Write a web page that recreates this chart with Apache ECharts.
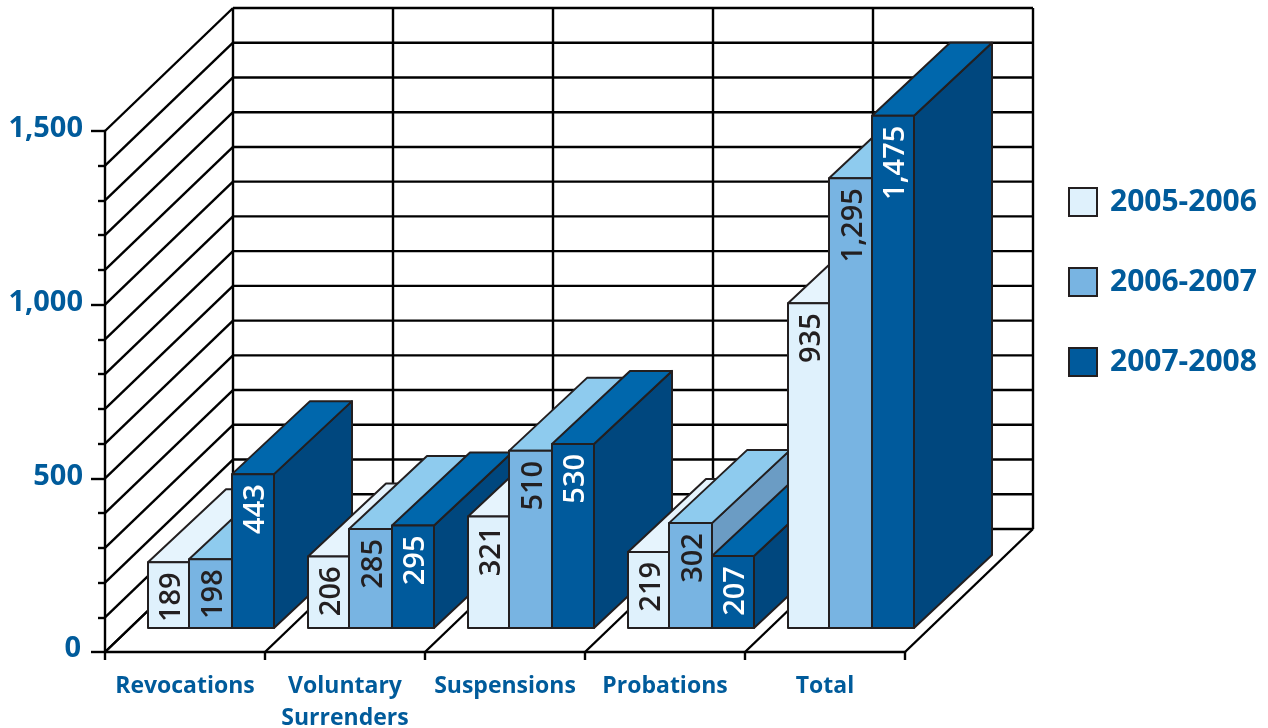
<!DOCTYPE html>
<html>
<head>
<meta charset="utf-8">
<style>html,body{margin:0;padding:0;background:#fff}#c{width:1268px;height:728px}</style>
<script src="https://cdn.jsdelivr.net/npm/echarts@6/dist/echarts.min.js"></script>
</head>
<body>
<div id="c"></div>
<script>
var categories = ['Revocations', 'Voluntary\nSurrenders', 'Suspensions', 'Probations', 'Total'];
var v2005 = [189, 206, 321, 219, 935];
var v2006 = [198, 285, 510, 302, 1295];
var v2007 = [443, 295, 530, 207, 1475];
var seriesNames = ['2005-2006', '2006-2007', '2007-2008'];
var yTicksMajor = { 0: '0', 500: '500', 1000: '1,000', 1500: '1,500' };
var gridLevels = [0, 100, 200, 300, 400, 500, 600, 700, 800, 900, 1000, 1100, 1200, 1300, 1400, 1500];
var gridBoundaries = [0, 1, 2, 3, 4, 5];

var FONT = '"Open Sans", "Noto Sans", sans-serif';
var BLUE = '#005b9b';
var INK = '#231f20';
var front = ['#dff1fc', '#78b4e2', '#005a9c'];
var top3d = ['#e6f4fd', '#8ecbee', '#0067ac'];
var side = ['#e6f4fd', '#6b9cc4', '#00477e'];
var labelCol = [INK, INK, '#ffffff'];
var slotX = [[-37, 4], [4, 47], [47, 89]];
var WALL = [128, -123], DEPTH = [78, -73], LIFT = 24;

function line(x1, y1, x2, y2) {
  return { type: 'line', shape: { x1: x1, y1: y1, x2: x2, y2: y2 }, style: { stroke: '#000', lineWidth: 2.4 }, silent: true };
}
function poly(points, fill, z2) {
  return { type: 'polygon', z2: z2, shape: { points: points }, style: { fill: fill, stroke: INK, lineWidth: 2, lineJoin: 'round' } };
}
function barRenderer(slot) {
  return function (params, api) {
    var cat = api.value(0), val = api.value(1);
    var p = api.coord([cat, val]), o = api.coord([cat, 0]);
    var x1 = o[0] + slotX[slot][0], x2 = o[0] + slotX[slot][1];
    var yb = o[1] - LIFT, yt = p[1] - LIFT;
    var z = cat * 10 + slot;
    var dx = DEPTH[0], dy = DEPTH[1];
    var text = val >= 1000 ? Math.floor(val / 1000) + ',' + String(val % 1000).padStart(3, '0') : String(val);
    return {
      type: 'group',
      children: [
        poly([[x2, yt], [x2 + dx, yt + dy], [x2 + dx, yb + dy], [x2, yb]], side[slot], z),
        poly([[x1, yt], [x1 + dx, yt + dy], [x2 + dx, yt + dy], [x2, yt]], top3d[slot], z),
        poly([[x1, yt], [x2, yt], [x2, yb], [x1, yb]], front[slot], z),
        {
          type: 'text', z2: z + 0.5, x: (x1 + x2) / 2 + 3, y: yt + 10, rotation: Math.PI / 2,
          style: { text: text, fill: labelCol[slot], font: '600 29px ' + FONT, align: 'right', verticalAlign: 'middle' }
        }
      ]
    };
  };
}
function barSeries(slot, values) {
  return {
    type: 'custom', name: seriesNames[slot], z: 3,
    coordinateSystem: 'cartesian2d',
    encode: { x: 0, y: 1 },
    data: values.map(function (v, i) { return [i, v]; }),
    renderItem: barRenderer(slot),
    itemStyle: { color: front[slot], borderColor: INK, borderWidth: 2 }
  };
}

var option = {
  animation: false,
  backgroundColor: '#fff',
  grid: { left: 105, top: 131, width: 800, height: 521, containLabel: false, outerBoundsMode: 'none' },
  xAxis: {
    type: 'category', data: categories,
    axisLine: { lineStyle: { color: '#000', width: 2.4 } },
    axisTick: { show: true, length: 8, lineStyle: { color: '#000', width: 2.4 } },
    axisLabel: { color: BLUE, fontFamily: FONT, fontWeight: 700, fontSize: 23, lineHeight: 32, margin: 18, interval: 0 },
    splitLine: { show: false }
  },
  yAxis: {
    type: 'value', min: 0, max: 1500, interval: 500,
    axisLine: { show: true, lineStyle: { color: '#000', width: 2.4 } },
    axisTick: { show: true, length: 14, lineStyle: { color: '#000', width: 2.4 } },
    minorTick: { show: true, splitNumber: 5, length: 7, lineStyle: { color: '#000', width: 2.4 } },
    axisLabel: { color: BLUE, fontFamily: FONT, fontWeight: 700, fontSize: 29, margin: 22, padding: [0, 0, 4, 0],
      formatter: function (v) { return v === 0 ? '{z|0}' : yTicksMajor[v]; },
      rich: { z: { color: BLUE, fontFamily: FONT, fontWeight: 700, fontSize: 29, padding: [0, 2, 2, 0] } } },
    splitLine: { show: false }
  },
  legend: {
    left: 1063, top: 182, orient: 'vertical', itemWidth: 28, itemHeight: 28, itemGap: 50, icon: 'rect',
    data: seriesNames,
    textStyle: { color: BLUE, fontFamily: FONT, fontWeight: 700, fontSize: 30, lineHeight: 28, padding: [0, 0, 0, 8] }
  },
  series: [
    {
      type: 'custom', name: 'levels', z: 1, encode: { x: 0, y: 1 }, silent: true,
      data: gridLevels.map(function (l) { return [0, l]; }),
      renderItem: function (params, api) {
        var p = api.coord([0, api.value(1)]);
        var band = api.size([1, 0])[0];
        var x0 = p[0] - band / 2;
        var xb = x0 + WALL[0], yb = p[1] + WALL[1];
        return { type: 'group', children: [line(x0, p[1], xb, yb), line(xb, yb, xb + band * categories.length, yb)] };
      }
    },
    {
      type: 'custom', name: 'verticals', z: 1, encode: { x: 0, y: 1 }, silent: true,
      data: gridBoundaries.map(function (b) { return [0, 0, b]; }),
      renderItem: function (params, api) {
        var o = api.coord([0, 0]), t = api.coord([0, gridLevels[gridLevels.length - 1]]);
        var band = api.size([1, 0])[0];
        var x = o[0] + (api.value(2) - 0.5) * band;
        return { type: 'group', children: [
          line(x, o[1], x + WALL[0], o[1] + WALL[1]),
          line(x + WALL[0], o[1] + WALL[1], x + WALL[0], t[1] + WALL[1])
        ] };
      }
    },
    barSeries(0, v2005),
    barSeries(1, v2006),
    barSeries(2, v2007)
  ]
};
echarts.init(document.getElementById('c')).setOption(option);
</script>
</body>
</html>
